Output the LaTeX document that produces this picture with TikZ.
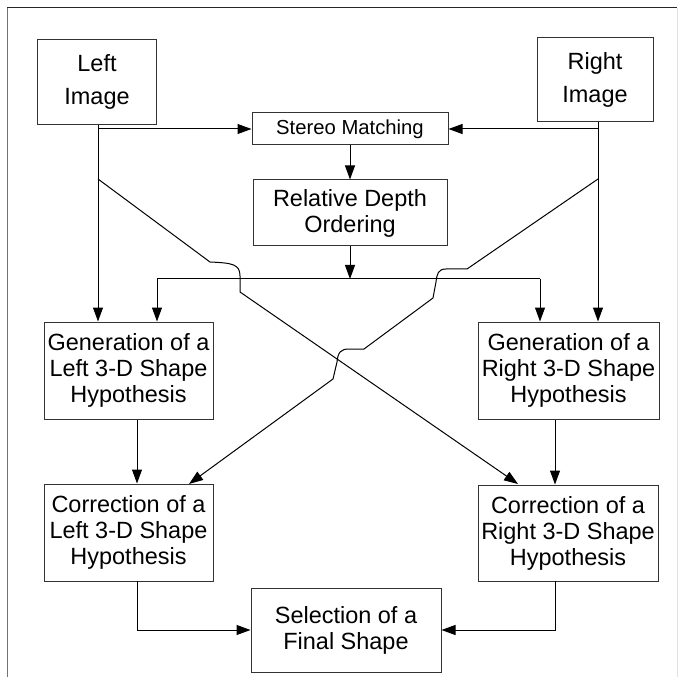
\documentclass[tikz,border=0pt]{standalone}
\usepackage{fontspec}
\setmainfont{Liberation Sans}
\usetikzlibrary{arrows.meta,positioning}

\begin{document}
\begin{tikzpicture}[x=0.75pt, y=-0.75pt, line width=0.75pt,
    box/.style={draw=black!80, align=center, inner sep=0pt,
      font=\fontsize{17.6}{19.5}\selectfont},
    arr/.style={-{Triangle[length=10.5pt,width=7.5pt]}}]
    \useasboundingbox (0,0) rectangle (678,677);
    % page frame
    \draw[black!55] (7,8) -- (7,677);
    \draw[black!85] (7,8) -- (677,8);
    \draw[black!12] (677,8) -- (677,677);

    % input images
    \node[box, minimum width=119*0.75pt, minimum height=85*0.75pt] (limg) at (97,82) {Left\\[5pt]Image};
    \node[box, minimum width=116*0.75pt, minimum height=84*0.75pt] (rimg) at (595,80) {Right\\[5pt]Image};

    % stereo part
    \node[box, minimum width=196*0.75pt, minimum height=32*0.75pt, font=\fontsize{15.2}{18}\selectfont] (stereo) at (350,129) {Stereo Matching};
    \node[box, minimum width=194*0.75pt, minimum height=66*0.75pt] (depth) at (350,213) {Relative Depth\\Ordering};

    % hypotheses
    \node[box, minimum width=169*0.75pt, minimum height=97*0.75pt] (genl) at (128.5,370.5) {Generation of a\\Left 3-D Shape\\Hypothesis};
    \node[box, minimum width=181*0.75pt, minimum height=97*0.75pt] (genr) at (568.5,370.5) {Generation of a\\Right 3-D Shape\\Hypothesis};
    \node[box, minimum width=169*0.75pt, minimum height=97*0.75pt] (corrl) at (128.5,532.5) {Correction of a\\Left 3-D Shape\\Hypothesis};
    \node[box, minimum width=180*0.75pt, minimum height=96*0.75pt] (corrr) at (568,533) {Correction of a\\Right 3-D Shape\\Hypothesis};
    \node[box, minimum width=190*0.75pt, minimum height=84*0.75pt] (sel) at (346,630) {Selection of a\\Final Shape};

    % branch points
    \coordinate (ldiag) at (98,179);
    \coordinate (rdiag) at (598,179);
    \coordinate (barl) at (157,279);
    \coordinate (barr) at (540,279);
    \coordinate (cl) at (137,581);
    \coordinate (cr) at (555,581);

    % image lines
    \draw[arr] (limg.south -| ldiag) -- (ldiag |- genl.north);
    \draw[arr] (rimg.south -| rdiag) -- (rdiag |- genr.north);
    \draw[arr] (ldiag |- stereo) -- (stereo.west);
    \draw[arr] (rdiag |- stereo) -- (stereo.east);
    \draw[arr] (stereo) -- (depth);
    \draw[arr] (depth) -- (depth |- barl);
    \draw (barl) -- (barr);
    \draw[arr] (barl) -- (barl |- genl.north);
    \draw[arr] (barr) -- (barr |- genr.north);

    % crossing lines with hops
    \draw[arr] (ldiag) -- (210,262) .. controls (232,263) and (240,264) .. (240,276)
      -- (240,292) -- (518,484);
    \draw[arr] (rdiag) -- (467,269) -- (446,269) .. controls (438,269) and (437,274) .. (436,282)
      -- (433,298) -- (364,349) -- (349,349) .. controls (341,349) and (338,352) .. (337,362)
      -- (333,379) -- (189,484);

    % down to corrections and selection
    \draw[arr] (cl |- genl.south) -- (cl |- corrl.north);
    \draw[arr] (cr |- genr.south) -- (cr |- corrr.north);
    \draw[arr] (cl) |- (sel.west);
    \draw[arr] (cr) |- (sel.east);
\end{tikzpicture}
\end{document}
